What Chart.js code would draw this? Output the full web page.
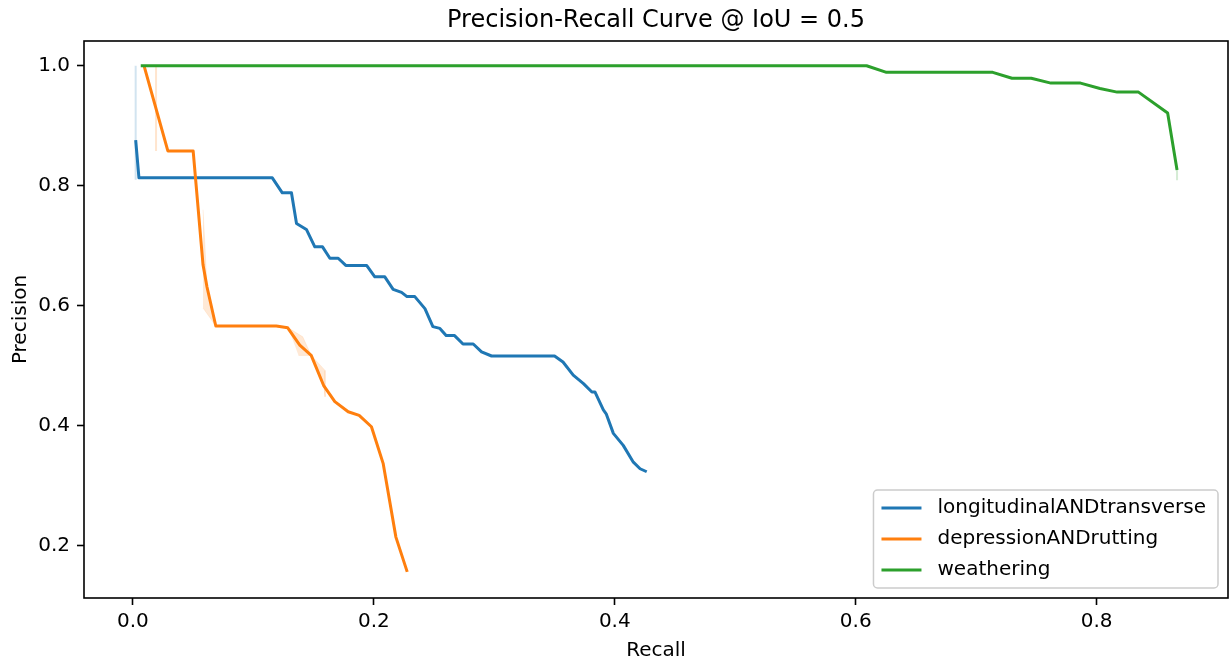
<!DOCTYPE html>
<html>
<head>
<meta charset="utf-8">
<script src="https://cdn.jsdelivr.net/npm/chart.js@4"></script>
<style>
  body { margin: 0; background: #fff; }
</style>
</head>
<body>
<canvas id="chartPR" width="1231" height="661"></canvas>
<script>
// values
const xTicks = [0.0, 0.2, 0.4, 0.6, 0.8];
const yTicks = [0.2, 0.4, 0.6, 0.8, 1.0];

const longRecall = [0.0023, 0.0050, 0.1157, 0.1240, 0.1316, 0.1358, 0.1440, 0.1510, 0.1574, 0.1635, 0.1704, 0.1767, 0.1940, 0.2008, 0.2091, 0.2160, 0.2230, 0.2275, 0.2340, 0.2424, 0.2490, 0.2548, 0.2600, 0.2670, 0.2740, 0.2825, 0.2894, 0.2977, 0.3500, 0.3570, 0.3655, 0.3740, 0.3810, 0.3835, 0.3905, 0.3930, 0.3988, 0.4070, 0.4154, 0.4210, 0.4265];
const longPrecision = [0.876, 0.813, 0.813, 0.788, 0.788, 0.737, 0.727, 0.698, 0.698, 0.679, 0.679, 0.667, 0.667, 0.648, 0.648, 0.627, 0.622, 0.615, 0.615, 0.595, 0.565, 0.562, 0.550, 0.550, 0.536, 0.536, 0.523, 0.516, 0.516, 0.506, 0.484, 0.470, 0.456, 0.456, 0.426, 0.419, 0.387, 0.367, 0.339, 0.328, 0.323];

const deprRecall = [0.0092, 0.0290, 0.0500, 0.0582, 0.0615, 0.0688, 0.1190, 0.1285, 0.1385, 0.1480, 0.1585, 0.1676, 0.1787, 0.1878, 0.1980, 0.2077, 0.2183, 0.2277];
const deprPrecision = [1.000, 0.858, 0.858, 0.668, 0.631, 0.566, 0.566, 0.563, 0.534, 0.517, 0.466, 0.440, 0.423, 0.417, 0.398, 0.337, 0.214, 0.156];

const weathRecall = [0.0065, 0.6090, 0.6255, 0.7137, 0.7297, 0.7457, 0.7620, 0.7866, 0.8027, 0.8170, 0.8347, 0.8589, 0.8667];
const weathPrecision = [1.000, 1.000, 0.989, 0.989, 0.979, 0.979, 0.971, 0.971, 0.962, 0.956, 0.956, 0.921, 0.826];

// faint spread around the curves
const longBandX = [0.0023, 0.0023];
const longBandY = [1.000, 0.810];
const deprBand1X = [0.0192, 0.0192];
const deprBand1Y = [0.998, 0.858];
const deprBand2X = [0.0582, 0.0598, 0.0615, 0.0688, 0.0582];
const deprBand2Y = [0.760, 0.700, 0.631, 0.566, 0.596];
const deprBand3X = [0.1290, 0.1410, 0.1480, 0.1375];
const deprBand3Y = [0.563, 0.548, 0.517, 0.517];
const deprBand4X = [0.1480, 0.1595, 0.1595, 0.1585];
const deprBand4Y = [0.517, 0.492, 0.448, 0.466];
const weathBandX = [0.8667, 0.8667];
const weathBandY = [0.830, 0.809];

const BLUE = '#1f77b4', ORANGE = '#ff7f0e', GREEN = '#2ca02c';

function pts(xs, ys) {
  return xs.map((x, i) => ({ x: x, y: ys[i] }));
}

function curve(label, xs, ys, color, order) {
  return {
    label: label, data: pts(xs, ys), borderColor: color, backgroundColor: color,
    borderWidth: 3, pointRadius: 0, tension: 0, borderJoinStyle: 'round',
    order: order, inLegend: true
  };
}

function band(xs, ys, color, shape) {
  return {
    label: '', data: pts(xs, ys), borderColor: color + '33', backgroundColor: color + '2b',
    borderWidth: shape ? 0.5 : 2, pointRadius: 0, tension: 0,
    fill: shape ? 'shape' : false, order: 10, inLegend: false
  };
}

const spines = {
  id: 'spines',
  afterDraw(chart) {
    const { ctx, chartArea: a } = chart;
    ctx.save();
    ctx.strokeStyle = '#000';
    ctx.lineWidth = 1.6;
    ctx.strokeRect(a.left, a.top, a.right - a.left, a.bottom - a.top);
    ctx.restore();
  }
};

const legendBox = {
  id: 'legendBox',
  afterDraw(chart) {
    const { ctx, chartArea: a } = chart;
    const items = chart.data.datasets.filter(d => d.inLegend);
    const fs = 20;
    ctx.save();
    ctx.font = fs + 'px "DejaVu Sans"';
    const textW = Math.max(...items.map(d => ctx.measureText(d.label).width));
    const pad = 0.4 * fs, handle = 2 * fs, gap = 0.8 * fs, rowH = 31;
    const w = pad * 2 + handle + gap + textW + 4;
    const h = pad * 2 + rowH * items.length - 11;
    const right = a.right - 10, bottom = a.bottom - 10;
    const left = right - w, top = bottom - h;
    ctx.beginPath();
    ctx.roundRect(left, top, w, h, 4);
    ctx.fillStyle = 'rgba(255,255,255,0.8)';
    ctx.fill();
    ctx.strokeStyle = '#cccccc';
    ctx.lineWidth = 1.5;
    ctx.stroke();
    items.forEach((d, i) => {
      const y = top + pad + 10 + i * rowH;
      ctx.beginPath();
      ctx.moveTo(left + pad, y);
      ctx.lineTo(left + pad + handle, y);
      ctx.strokeStyle = d.borderColor;
      ctx.lineWidth = 3;
      ctx.stroke();
      ctx.fillStyle = '#000';
      ctx.textBaseline = 'middle';
      ctx.fillText(d.label, left + pad + handle + gap, y);
    });
    ctx.restore();
  }
};

Chart.defaults.font.family = '"DejaVu Sans", sans-serif';
Chart.defaults.color = '#000';

const ctx = document.getElementById('chartPR');

new Chart(ctx, {
  type: 'line',
  data: {
    datasets: [
      curve('longitudinalANDtransverse', longRecall, longPrecision, BLUE, 3),
      curve('depressionANDrutting', deprRecall, deprPrecision, ORANGE, 2),
      curve('weathering', weathRecall, weathPrecision, GREEN, 1),
      band(longBandX, longBandY, BLUE, false),
      band(deprBand1X, deprBand1Y, ORANGE, false),
      band(deprBand2X, deprBand2Y, ORANGE, true),
      band(deprBand3X, deprBand3Y, ORANGE, true),
      band(deprBand4X, deprBand4Y, ORANGE, true),
      band(weathBandX, weathBandY, GREEN, false)
    ]
  },
  options: {
    responsive: false,
    animation: false,
    layout: { padding: { left: 0, right: 3, top: 0, bottom: 0 } },
    plugins: {
      legend: { display: false },
      tooltip: { enabled: false },
      title: {
        display: true,
        text: 'Precision-Recall Curve @ IoU = 0.5',
        fullSize: false,
        font: { size: 24, weight: 'normal' },
        padding: { top: 6, bottom: 6.2 }
      }
    },
    scales: {
      x: {
        type: 'linear',
        min: -0.0406,
        max: 0.909,
        afterBuildTicks: s => { s.ticks = xTicks.map(v => ({ value: v })); },
        afterFit: s => { s.height = 63; },
        ticks: { font: { size: 20 }, padding: 5, maxRotation: 0, callback: v => v.toFixed(1) },
        grid: { drawOnChartArea: false, tickLength: 7, tickWidth: 1.6, tickColor: '#000' },
        border: { display: false },
        title: { display: true, text: 'Recall', font: { size: 20, lineHeight: 1.0 }, padding: { top: 0, bottom: 0 } }
      },
      y: {
        type: 'linear',
        min: 0.1125,
        max: 1.0412,
        afterBuildTicks: s => { s.ticks = yTicks.map(v => ({ value: v })); },
        afterFit: s => { s.width = 84; },
        ticks: { font: { size: 20 }, padding: 7, callback: v => v.toFixed(1) },
        grid: { drawOnChartArea: false, tickLength: 7, tickWidth: 1.6, tickColor: '#000' },
        border: { display: false },
        title: { display: true, text: 'Precision', font: { size: 20 }, padding: { top: 9, bottom: 0 } }
      }
    }
  },
  plugins: [spines, legendBox]
});
</script>
</body>
</html>
